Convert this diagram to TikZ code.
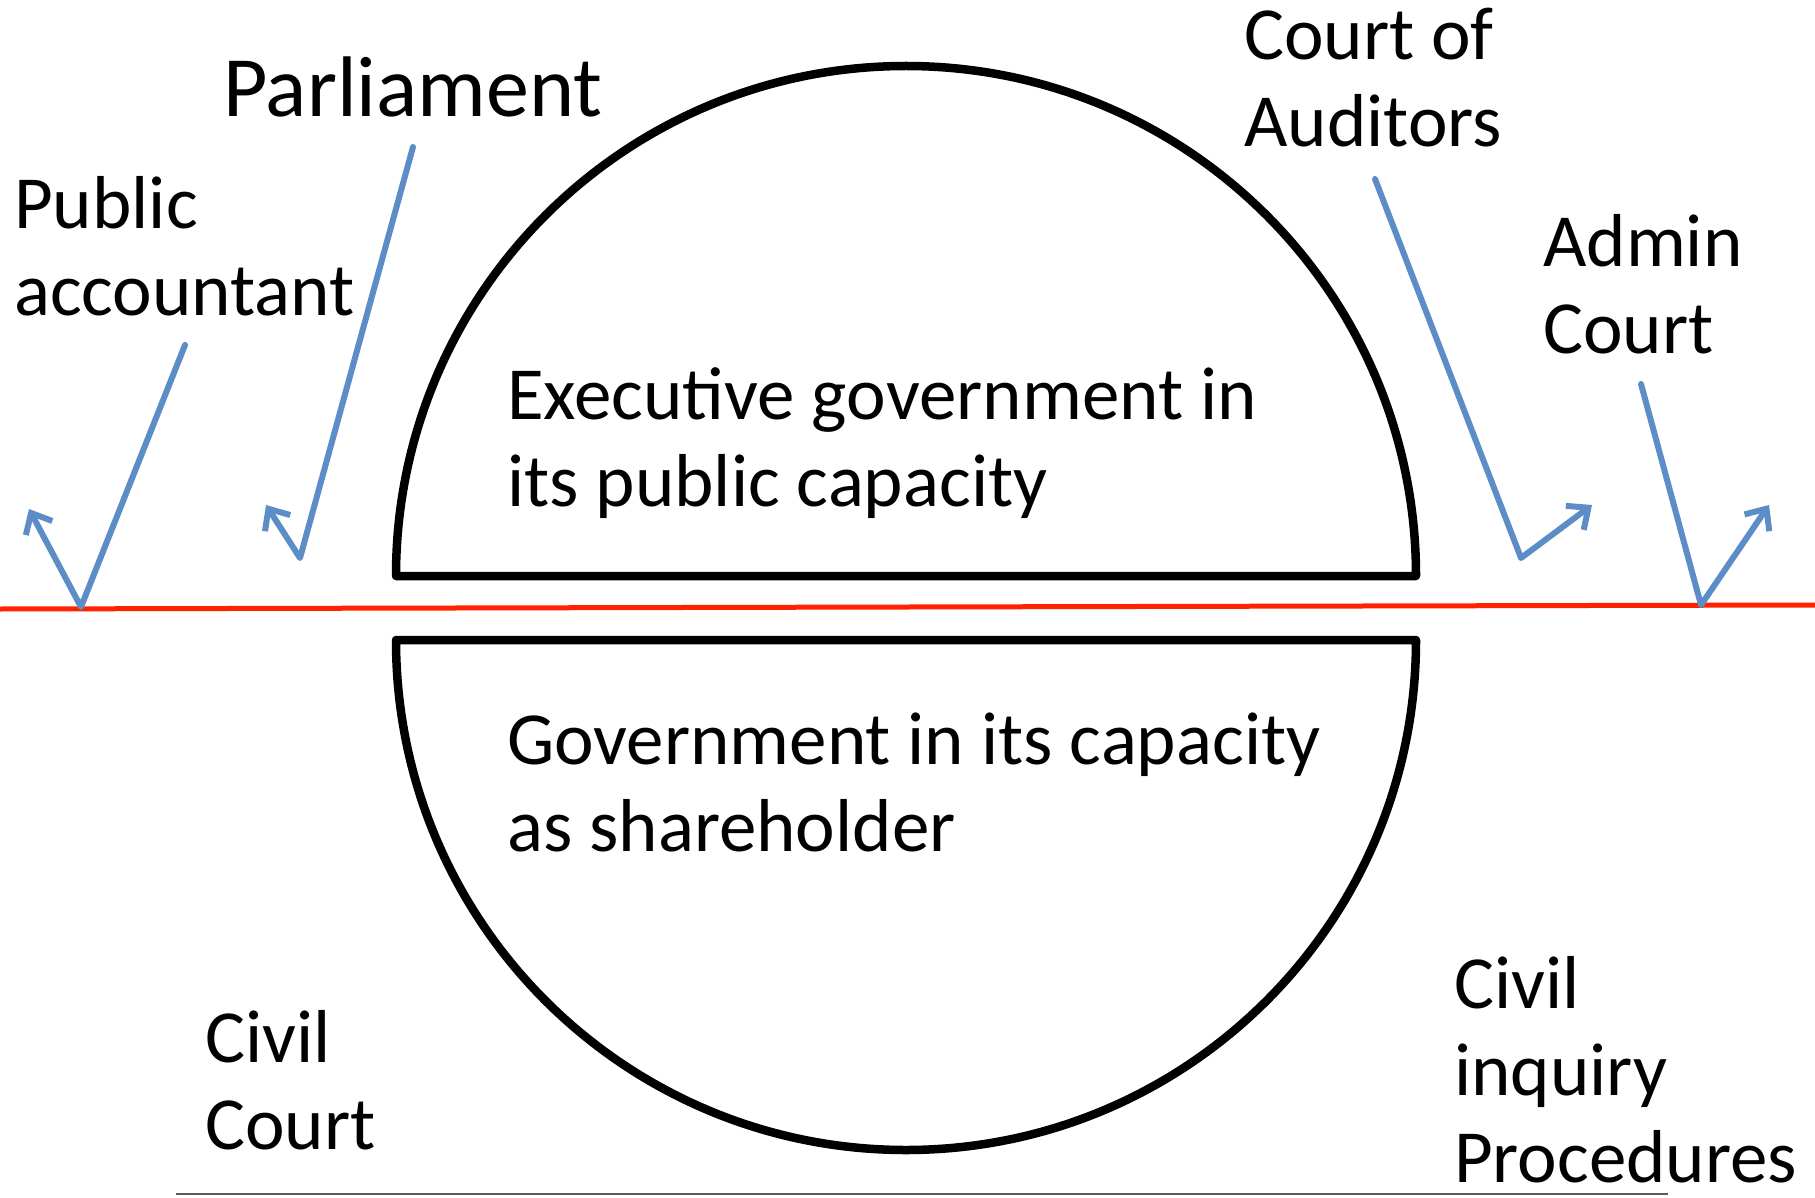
\documentclass[tikz,border=0pt]{standalone}
\usepackage{fontspec}
\setmainfont{Carlito}
\usetikzlibrary{arrows.meta}
\definecolor{arrowblue}{RGB}{92,141,199}
\definecolor{splitred}{RGB}{255,34,0}
\definecolor{basegray}{RGB}{90,90,90}
\begin{document}
\begin{tikzpicture}[x=1pt,y=-1pt,
  lbl/.style={anchor=base west,inner sep=0pt,align=left,font=\fontsize{75}{87}\selectfont},
  biglbl/.style={lbl,font=\fontsize{86}{100}\selectfont},
  link/.style={draw=arrowblue,line width=6pt,line cap=round,line join=round,
    -{Straight Barb[length=17pt,width=30pt,line width=6pt]}},
  half/.style={draw=black,line width=8.5pt,line join=round}]
\useasboundingbox (0,0) rectangle (1815,1198);

% halves of the circle
\draw[half] (396,576) arc[start angle=180,end angle=360,radius=510] -- cycle;
\draw[half] (396,640) arc[start angle=180,end angle=0,radius=510] -- cycle;

% red split line
\coordinate (redL) at (0,609);
\coordinate (redR) at (1815,605);
\draw[splitred,line width=5pt] (redL) -- (redR);

% bottom line
\coordinate (baseL) at (176,1194);
\coordinate (baseR) at (1668,1194);
\draw[basegray,line width=2pt] (baseL) -- (baseR);

% labels (anchor = baseline of the last line)
\node[biglbl] (parl) at (223,117) {Parliament};
\node[lbl] (pub) at (14,316) {Public\\accountant};
\node[lbl] (coa) at (1244,147) {Court of\\Auditors};
\node[lbl] (adm) at (1543,353) {Admin\\Court};
\node[lbl] (exec) at (507,506) {Executive government in\\its public capacity};
\node[lbl] (share) at (507,851) {Government in its capacity\\as shareholder};
\node[lbl] (civc) at (205,1149) {Civil\\Court};
\node[lbl] (civp) at (1454,1182) {Civil\\inquiry\\Procedures};

% connectors
\coordinate (pubS) at (185,345);  \coordinate (pubV) at (81,607);   \coordinate (pubT) at (29,509);
\coordinate (parS) at (413,147);  \coordinate (parV) at (300,558);  \coordinate (parT) at (266,505);
\coordinate (coaS) at (1375,179); \coordinate (coaV) at (1521,558); \coordinate (coaT) at (1592,505);
\coordinate (admS) at (1641,384); \coordinate (admV) at (1701,605); \coordinate (admT) at (1769,505);
\draw[link] (pubS) -- (pubV) -- (pubT);
\draw[link] (parS) -- (parV) -- (parT);
\draw[link] (coaS) -- (coaV) -- (coaT);
\draw[link] (admS) -- (admV) -- (admT);
\end{tikzpicture}
\end{document}
